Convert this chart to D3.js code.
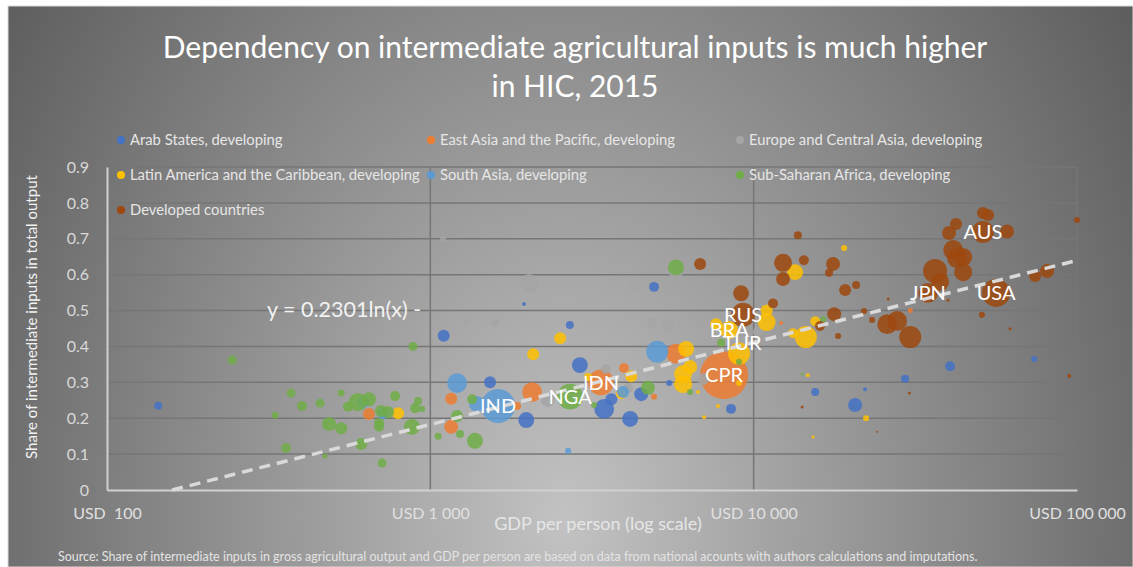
<!DOCTYPE html>
<html lang="en">
<head>
<meta charset="UTF-8">
<title>Dependency on intermediate agricultural inputs</title>
<script src="https://cdn.jsdelivr.net/npm/d3@7/dist/d3.min.js"></script>
<style>
body{margin:0;background:#fff;}
text{font-family:Lato,"Open Sans",sans-serif;}
</style>
</head>
<body>
<script>
// [GDP per person USD, share of intermediate inputs, bubble size, label]
var arabStates = [[144,0.235,2.8],[1100,0.43,6.3],[1530,0.30,6.3],[1980,0.195,11],[2700,0.46,2.8],
  [2900,0.348,11],[1950,0.518,0.7],[3450,0.226,17],[4150,0.198,11],[4490,0.267,8.5],[3630,0.253,6.3],
  [5480,0.298,1.6],[4920,0.566,4.3],[8510,0.226,4.3],[15500,0.273,2.8],[20600,0.237,8.5],
  [22100,0.281,0.7],[29400,0.31,2.8],[40500,0.345,4.3],[73700,0.365,1.6]];
var eastAsia = [[8100,0.32,100,"CPR"],[646,0.212,6.3],[1160,0.254,6.3],[1160,0.176,8.5],[2064,0.273,17],
  [1854,0.234,2.8],[3370,0.30,29,"IDN"],[3970,0.34,4.3],[4920,0.26,1.6],[5750,0.38,17],
  [12160,0.465,0.7],[30500,0.50,1.1]];
var europeCA = [[2020,0.577,14],[1585,0.465,2.8],[4270,0.571,4.3],[5250,0.548,6.3],[4850,0.465,4.3],
  [5430,0.46,6.3],[3490,0.337,4.3],[2310,0.251,8.5],[4086,0.284,4.3],[6970,0.309,6.3],[10300,0.44,4.3],
  [1095,0.70,1.6],[5750,0.607,8.5],[916,0.245,2.8],[9200,0.41,8.5,"TUR"],[1290,0.468,1.6]];
var latinAm = [[795,0.214,6.3],[2520,0.423,6.3],[2080,0.378,6.3],[4180,0.317,6.3],[6180,0.393,11],
  [6360,0.343,8.5],[6050,0.323,14],[6050,0.295,14],[3890,0.267,4.3],[3075,0.315,2.8],[7650,0.462,6.3],
  [8400,0.446,14,"BRA"],[9010,0.38,21],[10970,0.468,14],[10970,0.50,6.3],[9010,0.298,1.6],
  [6730,0.273,0.7],[7760,0.234,0.7],[7030,0.203,0.7],[13430,0.607,11],[19050,0.674,1.6],
  [14500,0.426,21],[15500,0.47,4.3],[13240,0.437,4.3],[14700,0.32,0.7],[22280,0.20,1.6],[15270,0.148,0.4]];
var southAsia = [[1620,0.234,50,"IND"],[1210,0.298,17],[5030,0.385,21],[1394,0.24,11],[714,0.214,6.3],
  [619,0.245,6.3],[3945,0.273,6.3],[2668,0.109,1.6]];
var subSahara = [[244,0.362,3.5],[371,0.27,3.5],[401,0.234,4.3],[456,0.242,3.5],[331,0.208,2.1],
  [530,0.27,2.1],[597,0.245,14],[646,0.253,8.5],[556,0.232,4.3],[778,0.262,4.3],[916,0.248,2.8],
  [897,0.228,4.3],[943,0.226,1.6],[704,0.22,6.3],[740,0.217,6.3],[486,0.184,8.5],[530,0.172,6.3],
  [694,0.187,4.3],[694,0.176,4.3],[877,0.176,11],[611,0.128,6.3],[358,0.117,4.3],[472,0.095,1.1],
  [709,0.075,3.5],[884,0.40,3.5],[1057,0.15,2.1],[1210,0.206,6.3],[1346,0.253,4.3],[1236,0.156,2.8],
  [1374,0.137,11],[2705,0.26,29,"NGA"],[3210,0.237,1.6],[4710,0.285,8.5],[5750,0.62,11],
  [6360,0.273,1.6],[7930,0.41,2.8],[9010,0.357,1.6],[14120,0.323,0.4],[16400,0.476,1.6]];
var developed = [[13700,0.71,2.8],[6830,0.63,6.3],[12330,0.633,14],[14300,0.64,4.3],[17600,0.63,8.5],
  [17100,0.605,2.8],[12330,0.588,8.5],[19180,0.557,6.3],[20740,0.571,2.8],[9140,0.548,11],
  [11480,0.52,4.3],[9270,0.488,25,"RUS"],[17740,0.49,8.5],[26060,0.532,0.4],[21950,0.499,1.6],
  [23240,0.474,1.6],[16040,0.457,4.3],[18240,0.429,1.6],[25880,0.462,17],[27790,0.471,17],
  [14120,0.231,0.4],[51200,0.772,6.3],[53100,0.766,6.3],[42250,0.741,6.3],[40200,0.716,8.5],
  [51200,0.719,21,"AUS"],[60800,0.72,8.5],[41400,0.669,17],[44460,0.649,14],[42560,0.646,17],
  [44460,0.607,14],[36400,0.61,25],[37740,0.58,14],[34600,0.549,17,"JPN"],[56200,0.549,34,"USA"],
  [74200,0.596,6.3],[80800,0.61,8.5],[100000,0.752,1.6],[39900,0.529,0.4],[30500,0.426,21],
  [50800,0.488,1.6],[62100,0.449,0.4],[94600,0.318,0.7],[30300,0.27,0.4],[24100,0.162,0.17]];

var seriesNames = ["Arab States, developing","East Asia and the Pacific, developing","Europe and Central Asia, developing",
  "Latin America and the Caribbean, developing","South Asia, developing","Sub-Saharan Africa, developing","Developed countries"];
var seriesColors = ["#4472C4","#ED7D31","#A5A5A5","#FFC000","#5B9BD5","#70AD47","#9E480E"];
var seriesData = [arabStates,eastAsia,europeCA,latinAm,southAsia,subSahara,developed];

var xTicks = [100,1000,10000,100000];
var xTickLabels = ["USD  100","USD 1 000","USD 10 000","USD 100 000"];
var yTicks = [0,0.1,0.2,0.3,0.4,0.5,0.6,0.7,0.8,0.9];
// log trend: y = a ln(x) + b
var trendA = 0.0993, trendB = -0.5034;

var width = 1133, height = 567;
var svg = d3.select("body").append("svg").attr("width",width).attr("height",height);

var defs = svg.append("defs");
var grad = defs.append("radialGradient").attr("id","bg").attr("gradientUnits","userSpaceOnUse")
  .attr("cx",565).attr("cy",520).attr("r",690)
  .attr("gradientTransform","translate(565,520) scale(1,1.35) translate(-565,-520)");
grad.append("stop").attr("offset",0).attr("stop-color","#c2c2c2");
grad.append("stop").attr("offset",1).attr("stop-color","#5c5c5c");

svg.append("rect").attr("x",8).attr("y",6).attr("width",width-8).attr("height",height-6)
  .attr("fill","url(#bg)").attr("stroke","#d9d9d9");

var x = d3.scaleLog().domain([100,100000]).range([107,1077]);
var y = d3.scaleLinear().domain([0,0.9]).range([490,167]);
var r = d3.scaleSqrt().domain([0,100]).range([0,24]);

// title
svg.append("text").attr("x",575).attr("y",58).attr("text-anchor","middle").attr("fill","#fff")
  .style("font-size","30px").text("Dependency on intermediate agricultural inputs is much higher");
svg.append("text").attr("x",575).attr("y",97).attr("text-anchor","middle").attr("fill","#fff")
  .style("font-size","30px").text("in HIC, 2015");

// gridlines
svg.append("g").selectAll("line").data(yTicks.slice(1)).enter().append("line")
  .attr("x1",107).attr("x2",1077).attr("y1",function(d){return y(d);}).attr("y2",function(d){return y(d);})
  .attr("stroke","#767676").attr("stroke-width",1.5);
svg.append("g").selectAll("line").data(xTicks.slice(1)).enter().append("line")
  .attr("x1",function(d){return x(d);}).attr("x2",function(d){return x(d);}).attr("y1",167).attr("y2",490)
  .attr("stroke","#767676").attr("stroke-width",1.5);

// axes
var yAxis = svg.append("g").attr("transform","translate(107,0)")
  .call(d3.axisLeft(y).tickValues(yTicks).tickFormat(function(d){return d===0?"0":d3.format(".1f")(d);}).tickSize(0).tickPadding(18));
yAxis.select(".domain").attr("stroke","#d0d0d0").attr("stroke-width",2);
yAxis.selectAll("text").attr("fill","#d9d9d9").style("font-size","16px").style("font-family","Lato");

var xAxis = svg.append("g").attr("transform","translate(0,490)")
  .call(d3.axisBottom(x).tickValues(xTicks).tickFormat(function(d,i){return xTickLabels[i];}).tickSize(0).tickPadding(18));
xAxis.select(".domain").attr("stroke","#d0d0d0").attr("stroke-width",2);
xAxis.selectAll("text").attr("fill","#e0e0e0").style("font-size","16px").style("font-family","Lato").style("white-space","pre");

svg.append("text").attr("x",598).attr("y",530).attr("text-anchor","middle").attr("fill","#e6e6e6")
  .style("font-size","18px").text("GDP per person (log scale)");
svg.append("text").attr("transform","translate(37,317) rotate(-90)").attr("text-anchor","middle").attr("fill","#f2f2f2")
  .style("font-size","15px").text("Share of intermediate inputs in total output");
svg.append("text").attr("x",58).attr("y",561).attr("fill","#e3e3e3").style("font-size","12.5px")
  .text("Source: Share of intermediate inputs in gross agricultural output and GDP per person are based on data from national acounts with authors calculations and imputations.");

// bubbles
var plot = svg.append("g");
seriesData.forEach(function(data,i){
  plot.append("g").selectAll("circle").data(data).enter().append("circle")
    .attr("cx",function(d){return x(d[0]);}).attr("cy",function(d){return y(d[1]);})
    .attr("r",function(d){return r(d[2]);})
    .attr("fill",seriesColors[i]).attr("fill-opacity",0.85);
});

// trendline
var trendX = [Math.exp(-trendB/trendA),100000];
svg.append("path").datum(trendX)
  .attr("d",d3.line().x(function(d){return x(d);}).y(function(d){return y(trendA*Math.log(d)+trendB);}))
  .attr("stroke","#d9d9d9").attr("stroke-width",3.5).attr("stroke-dasharray","11,7").attr("fill","none");
svg.append("text").attr("x",267).attr("y",317).attr("fill","#f2f2f2").style("font-size","21.5px")
  .text("y = 0.2301ln(x) -");

// country labels
var labelled = [];
seriesData.forEach(function(data){data.forEach(function(d){if(d[3])labelled.push(d);});});
svg.append("g").selectAll("text").data(labelled).enter().append("text")
  .attr("x",function(d){return x(d[0]);}).attr("y",function(d){return y(d[1]);}).attr("dy","0.36em")
  .attr("text-anchor","middle").attr("fill","#fff").style("font-size","20px")
  .text(function(d){return d[3];});

// legend
var legCols = [121,431,740], legRows = [140,175,210];
var legend = svg.append("g").selectAll("g").data(seriesNames).enter().append("g")
  .attr("transform",function(d,i){return "translate("+legCols[i%3]+","+legRows[Math.floor(i/3)]+")";});
legend.append("circle").attr("r",4).attr("fill",function(d,i){return seriesColors[i];});
legend.append("text").attr("x",9).attr("dy","0.35em").attr("fill","#e6e6e6").style("font-size","14.8px")
  .text(function(d){return d;});
</script>
</body>
</html>
